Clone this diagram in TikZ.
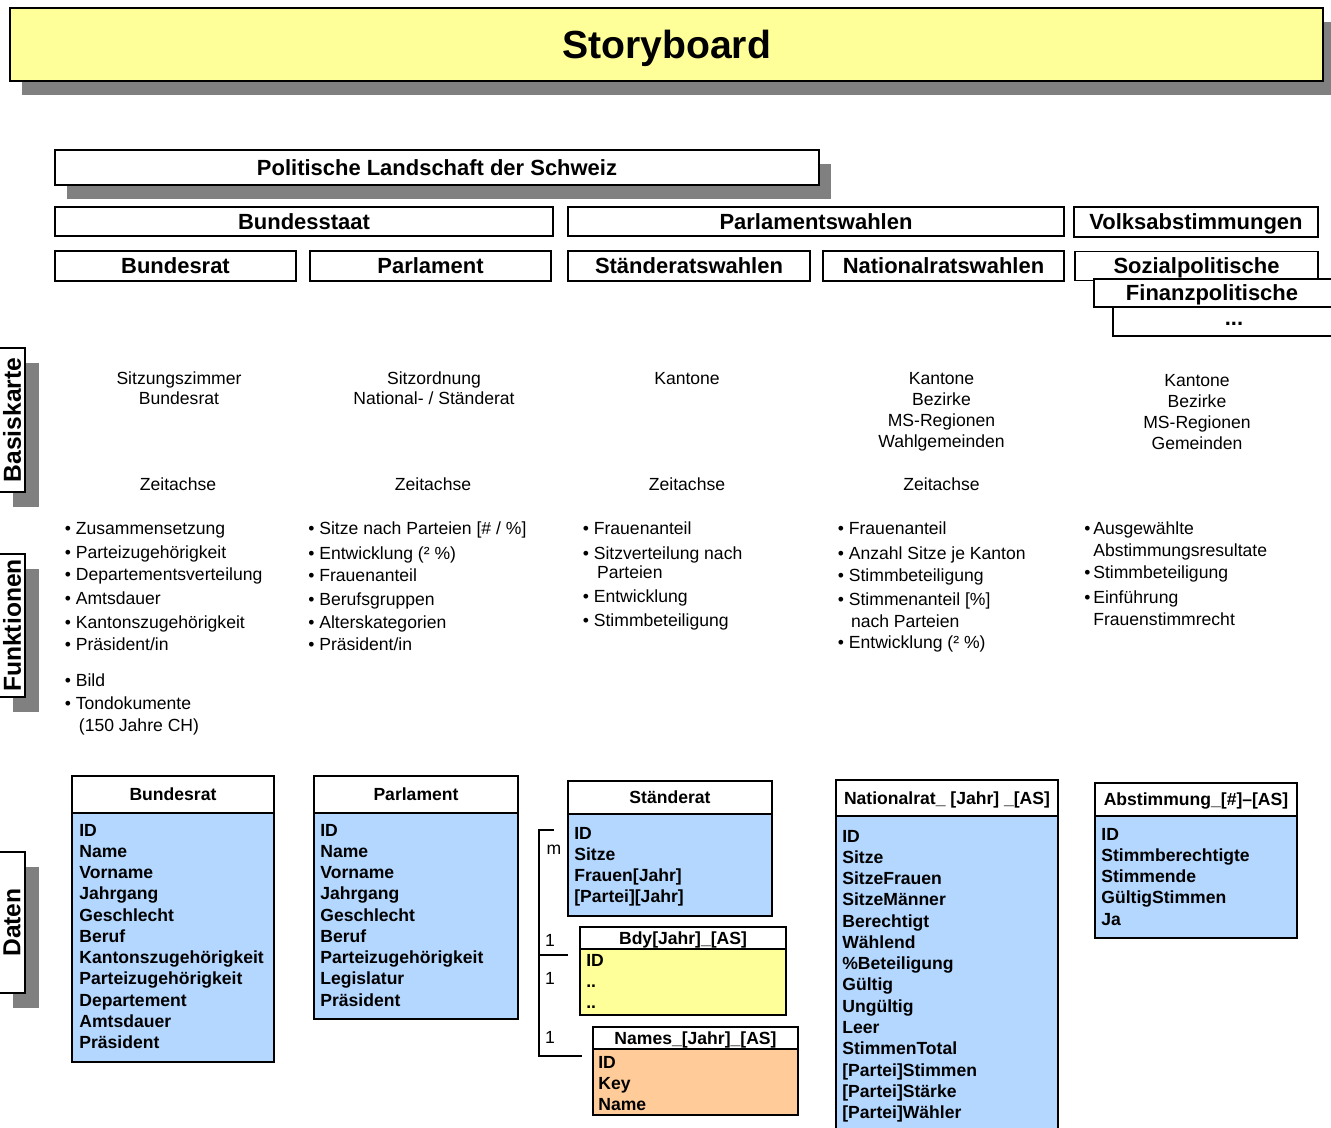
\documentclass[tikz,border=0pt]{standalone}
\usepackage{fontspec}
\setmainfont{Liberation Sans}
\usetikzlibrary{shadows}

\definecolor{Titel}{HTML}{FFFF99}
\definecolor{Schatten}{HTML}{808080}
\definecolor{Tabelle}{HTML}{B3D7FF}
\definecolor{Grenzen}{HTML}{FFFF99}
\definecolor{Namen}{HTML}{FFCC99}

\newcommand{\pxu}{0.02cm}

\begin{document}
\begin{tikzpicture}[x={(0.02cm,0cm)}, y={(0cm,-0.02cm)},
  kasten/.style={draw, line width=1.1pt, fill=white, inner sep=0pt,
    text height=9pt, text depth=0pt, font=\bfseries\fontsize{12.5}{15}\selectfont},
  kastentext/.style={inner sep=0pt, text height=9pt, text depth=0pt,
    font=\bfseries\fontsize{12.5}{15}\selectfont},
  titelbox/.style={draw, line width=1.1pt, fill=Titel, inner sep=0pt,
    text height=16pt, text depth=0pt, font=\bfseries\fontsize{22.3}{26}\selectfont},
  reiter/.style={draw, line width=1.1pt, fill=white, inner sep=0pt,
    font=\bfseries\fontsize{14}{16}\selectfont,
    drop shadow={shadow xshift=0.28cm, shadow yshift=-0.3cm, fill=Schatten, opacity=1}},
  kopf/.style={draw, line width=1.1pt, fill=white, inner sep=0pt,
    text height=7.2pt, text depth=0pt, font=\bfseries\fontsize{10}{12}\selectfont},
  feld/.style={draw, line width=1.1pt, inner sep=0pt},
  felder/.style={anchor=north west, align=left, inner sep=0pt,
    font=\bfseries\fontsize{10}{12.1}\selectfont},
  karte/.style={anchor=north, align=center, inner sep=0pt,
    font=\fontsize{10}{12.1}\selectfont},
  liste/.style={anchor=north west, align=left, inner sep=0pt,
    font=\fontsize{10}{12.5}\selectfont},
  zahl/.style={inner sep=0pt, font=\fontsize{10}{12}\selectfont},
  klammer/.style={line width=1.4pt}]

  \useasboundingbox (0,0) rectangle (1331,1128);
  \clip (0,0) rectangle (1331,1128);

  %%%%%%%%%%%%%%%% TITEL %%%%%%%%%%%%%%%%%%%%%%
  \node[titelbox, minimum width=1313*\pxu, minimum height=73*\pxu,
    drop shadow={shadow xshift=0.24cm, shadow yshift=-0.28cm, fill=Schatten, opacity=1}]
    (titel) at (666.5,44.5) {Storyboard};

  %%%%%%%%%% Themen-Hierarchie %%%%%%%%%%
  \node[kasten, minimum width=764*\pxu, minimum height=35*\pxu,
    drop shadow={shadow xshift=0.24cm, shadow yshift=-0.28cm, fill=Schatten, opacity=1}]
    (politik) at (437,167.5) {Politische Landschaft der Schweiz};

  \node[kasten, minimum width=498*\pxu, minimum height=29*\pxu] (bundesstaat) at (304,221.5) {Bundesstaat};
  \node[kasten, minimum width=496*\pxu, minimum height=29*\pxu] (parlwahlen) at (816,221.5) {Parlamentswahlen};
  \node[kasten, minimum width=244*\pxu, minimum height=30*\pxu] (volksabst) at (1196,222) {Volksabstimmungen};

  \node[kasten, minimum width=241*\pxu, minimum height=30*\pxu] (bundesrat) at (175.5,266) {Bundesrat};
  \node[kasten, minimum width=241*\pxu, minimum height=30*\pxu] (parlament) at (430.5,266) {Parlament};
  \node[kasten, minimum width=242*\pxu, minimum height=30*\pxu] (srwahlen) at (689,266) {Ständeratswahlen};
  \node[kasten, minimum width=241*\pxu, minimum height=30*\pxu] (nrwahlen) at (943.5,266) {Nationalratswahlen};

  % gestapelte Abstimmungen
  \node[kasten, minimum width=243*\pxu, minimum height=29*\pxu] (sozial) at (1196.5,266) {Sozialpolitische};
  \node[kasten, anchor=west, minimum width=252*\pxu, minimum height=28*\pxu] (finanz) at (1093,293) {};
  \node[kastentext] (finanztext) at (1212,293) {Finanzpolitische};
  \node[kasten, anchor=west, minimum width=233*\pxu, minimum height=29*\pxu] (punkte) at (1112,321.5) {};
  \node[kastentext] (punktetext) at (1234,318) {...};

  %%%%%%%%%%%%%% Reiter links %%%%%%%%%%%%%%
  \node[reiter, minimum width=26*\pxu, minimum height=144*\pxu] (basiskarte) at (12,420) {\rotatebox{90}{Basiskarte}};
  \node[reiter, minimum width=26*\pxu, minimum height=143*\pxu] (funktionen) at (12,625.5) {\rotatebox{90}{Funktionen}};
  \node[reiter, minimum width=26*\pxu, minimum height=141*\pxu] (daten) at (12,922.5) {\rotatebox{90}{Daten}};

  %%%%% Basiskarte %%%%%
  \node[karte] (karteBR) at (179,371.7) {Sitzungszimmer\\[-0.8pt]Bundesrat};
  \node[karte] (karteParl) at (434,371.7) {Sitzordnung\\[-0.8pt]National- / Ständerat};
  \node[karte] (karteSR) at (687,371.7) {Kantone};
  \node[karte] (karteNR) at (941.5,371.7) {Kantone\\Bezirke\\MS-Regionen\\Wahlgemeinden};
  \node[karte] (karteVA) at (1197,373.7) {Kantone\\Bezirke\\MS-Regionen\\Gemeinden};

  \node[karte] (zeitBR) at (178,477.3) {Zeitachse};
  \node[karte] (zeitParl) at (433,477.3) {Zeitachse};
  \node[karte] (zeitSR) at (687,477.3) {Zeitachse};
  \node[karte] (zeitNR) at (941.5,477.3) {Zeitachse};

  %%%%% Funktionen %%%%%
  \node[liste] (funkBR) at (64.5,521.7) {%
    • Zusammensetzung\\[1.5pt]
    • Parteizugehörigkeit\\
    • Departementsverteilung\\[1pt]
    • Amtsdauer\\[1pt]
    • Kantonszugehörigkeit\\
    • Präsident/in\\[8pt]
    • Bild\\[1pt]
    • Tondokumente\\
    \hspace*{8pt}(150 Jahre CH)};
  \node[liste] (funkParl) at (308,521.7) {%
    • Sitze nach Parteien [\# / \%]\\[1.5pt]
    • Entwicklung (² \%)\\
    • Frauenanteil\\[1pt]
    • Berufsgruppen\\[1pt]
    • Alterskategorien\\
    • Präsident/in};
  \node[liste] (funkSR) at (582.5,521.7) {%
    • Frauenanteil\\[1.5pt]
    • Sitzverteilung nach\\[-1.8pt]
    \hspace*{8.1pt}Parteien\\[1.5pt]
    • Entwicklung\\[1pt]
    • Stimmbeteiligung};
  \node[liste] (funkNR) at (837.5,521.7) {%
    • Frauenanteil\\[1.5pt]
    • Anzahl Sitze je Kanton\\
    • Stimmbeteiligung\\[1pt]
    • Stimmenanteil [\%]\\
    \hspace*{7.5pt}nach Parteien\\
    • Entwicklung (² \%)};
  \node[liste] (funkVA) at (1084,521.7) {%
    •\hspace{1.6pt}Ausgewählte\\
    \hspace*{5.1pt}Abstimmungsresultate\\
    •\hspace{1.6pt}Stimmbeteiligung\\[1.5pt]
    •\hspace{1.6pt}Einführung\\
    \hspace*{5.1pt}Frauenstimmrecht};

  %%%%%%%%%%%%%% Daten: Tabellen %%%%%%%%%%%%%%
  % Bundesrat
  \node[feld, fill=Tabelle, minimum width=202*\pxu, minimum height=249*\pxu] (brFeld) at (173,937.5) {};
  \node[kopf, minimum width=202*\pxu, minimum height=37*\pxu] (brKopf) at (173,794.5) {Bundesrat};
  \node[felder] (brFelder) at (79,823.7) {ID\\Name\\Vorname\\Jahrgang\\Geschlecht\\Beruf\\Kantonszugehörigkeit\\Parteizugehörigkeit\\Departement\\Amtsdauer\\Präsident};

  % Parlament
  \node[feld, fill=Tabelle, minimum width=204*\pxu, minimum height=206*\pxu] (paFeld) at (416,916) {};
  \node[kopf, minimum width=204*\pxu, minimum height=37*\pxu] (paKopf) at (416,794.5) {Parlament};
  \node[felder] (paFelder) at (320,823.7) {ID\\Name\\Vorname\\Jahrgang\\Geschlecht\\Beruf\\Parteizugehörigkeit\\Legislatur\\Präsident};

  % Ständerat
  \node[feld, fill=Tabelle, minimum width=204*\pxu, minimum height=102*\pxu] (srFeld) at (670,865) {};
  \node[kopf, minimum width=204*\pxu, minimum height=33*\pxu] (srKopf) at (670,797.5) {Ständerat};
  \node[felder] (srFelder) at (574,826.7) {ID\\Sitze\\Frauen[Jahr]\\{}[Partei][Jahr]};

  % Bdy
  \node[feld, fill=Grenzen, minimum width=206*\pxu, minimum height=66*\pxu] (bdyFeld) at (683,982) {};
  \node[kopf, minimum width=206*\pxu, minimum height=22*\pxu] (bdyKopf) at (683,938) {Bdy[Jahr]\_[AS]};
  \node[felder] (bdyFelder) at (586,953.7) {ID\\..\\..};

  % Names
  \node[feld, fill=Namen, minimum width=205*\pxu, minimum height=66*\pxu] (naFeld) at (695.5,1082) {};
  \node[kopf, minimum width=205*\pxu, minimum height=22*\pxu] (naKopf) at (695.5,1038) {Names\_[Jahr]\_[AS]};
  \node[felder] (naFelder) at (598,1055.7) {ID\\Key\\Name};

  % Nationalrat
  \node[feld, fill=Tabelle, minimum width=222*\pxu, minimum height=324*\pxu] (nrFeld) at (947,978) {};
  \node[kopf, minimum width=222*\pxu, minimum height=36*\pxu] (nrKopf) at (947,798) {Nationalrat\_ [Jahr] \_[AS]};
  \node[felder] (nrFelder) at (842,829.7) {ID\\Sitze\\SitzeFrauen\\SitzeMänner\\Berechtigt\\Wählend\\\%Beteiligung\\Gültig\\Ungültig\\Leer\\StimmenTotal\\{}[Partei]Stimmen\\{}[Partei]Stärke\\{}[Partei]Wähler};

  % Abstimmung
  \node[feld, fill=Tabelle, minimum width=202*\pxu, minimum height=122*\pxu] (vaFeld) at (1196,877) {};
  \node[kopf, minimum width=202*\pxu, minimum height=33*\pxu] (vaKopf) at (1196,799.5) {Abstimmung\_[\#]–[AS]};
  \node[felder] (vaFelder) at (1101,827.7) {ID\\Stimmberechtigte\\Stimmende\\GültigStimmen\\Ja};

  %%%%% Beziehungen %%%%%
  \coordinate (srAnker) at (554,830);
  \coordinate (eckOben) at (539,830);
  \coordinate (eckMitte) at (539,955);
  \coordinate (bdyAnker) at (568,955);
  \coordinate (eckUnten) at (539,1056);
  \coordinate (naAnker) at (582,1056);

  \draw[klammer] (srAnker) -- (eckOben) -- (eckUnten) -- (naAnker);
  \draw[klammer] (eckMitte) -- (bdyAnker);

  \node[zahl] (kardM) at (554,850) {m};
  \node[zahl] (kardBdyA) at (550,940) {1};
  \node[zahl] (kardBdyB) at (550,978) {1};
  \node[zahl] (kardNa) at (550,1037) {1};

\end{tikzpicture}
\end{document}
